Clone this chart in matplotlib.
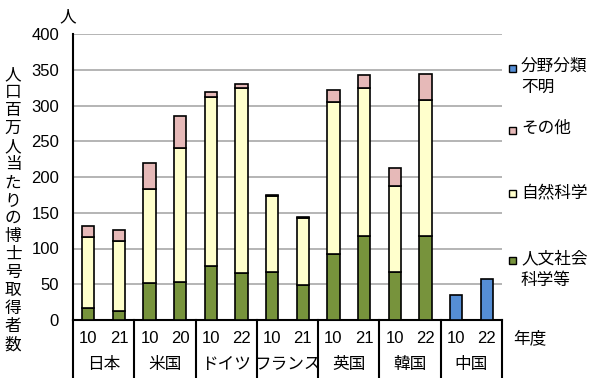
import matplotlib.pyplot as plt
import matplotlib.transforms as mtransforms
from matplotlib.patches import Rectangle

plt.rcParams['font.family'] = ['Liberation Sans', 'Noto Sans CJK JP']

countries = ['日本', '米国', 'ドイツ', 'フランス', '英国', '韓国', '中国']
years = ['10', '21', '10', '20', '10', '22', '10', '21', '10', '21', '10', '22', '10', '22']

# stacked values (people per million population)
humanities = [17, 13, 52, 53, 76, 66, 67, 49, 93, 118, 67, 118, 0, 0]
science    = [99, 98, 131, 188, 236, 258, 107, 94, 212, 206, 121, 190, 0, 0]
other      = [15, 15, 36, 45, 7, 6, 1, 1, 16, 18, 25, 36, 0, 0]
unknown    = [0, 0, 0, 0, 0, 0, 0, 0, 0, 0, 0, 0, 35, 58]

labels = ['人文社会\n科学等', '自然科学', 'その他', '分野分類\n不明']
colors = ['#77933C', '#FFFFCC', '#E6B9B8', '#558ED5']

fig = plt.figure(figsize=(6, 3.78), dpi=100)
ax = fig.add_axes([73/600, 58/378, 429/600, 286/378])

xs = []
for i in range(len(countries)):
    xs += [i + 0.25, i + 0.75]

bottom = [0] * len(xs)
for vals, col, lab in zip([humanities, science, other, unknown], colors, labels):
    idx = [k for k, v in enumerate(vals) if v > 0]
    ax.bar([xs[k] for k in idx], [vals[k] for k in idx], width=0.2,
           bottom=[bottom[k] for k in idx], color=col, edgecolor='black',
           linewidth=1.2, label=lab, zorder=3)
    bottom = [b + v for b, v in zip(bottom, vals)]

ax.set_xlim(0, 7)
ax.set_ylim(0, 400)
ax.set_yticks(range(0, 401, 50))
ax.tick_params(axis='y', length=0, labelsize=12, pad=10)
ax.set_xticks([])
ax.yaxis.grid(True, color='#A8A8A8', linewidth=1.2)
ax.set_axisbelow(True)
for s in ['top', 'right']:
    ax.spines[s].set_visible(False)
ax.spines['left'].set_linewidth(1.5)
ax.spines['bottom'].set_linewidth(1.5)

# category table under the axis
trans = mtransforms.blended_transform_factory(ax.transData, ax.transAxes)
for i in range(len(countries) + 1):
    ax.plot([i, i], [0, -0.21], color='black', linewidth=1.5,
            transform=trans, clip_on=False)
for x, y in zip(xs, years):
    ax.text(x, -0.063, y, transform=trans, ha='center', va='center', fontsize=12)
for i, c in enumerate(countries):
    ax.text(i + 0.5, -0.157, c, transform=trans, ha='center', va='center', fontsize=12)

fig.text(513/600, 1 - 338/378, '年度', ha='left', va='center', fontsize=12)
fig.text(68/600, 1 - 17/378, '人', ha='center', va='center', fontsize=12)
fig.text(13/600, 1 - 210/378, '\n'.join('人口百万人当たりの博士号取得者数'),
         ha='center', va='center', fontsize=12, linespacing=1.25)

# legend, square aligned with the first line of each label
leg_y = [260, 193, 130, 68]
for col, lab, y in zip(colors, labels, leg_y):
    fig.patches.append(Rectangle((509/600, 1 - (y + 4)/378), 7/600, 7/378,
                                 facecolor=col, edgecolor='black', linewidth=1,
                                 transform=fig.transFigure))
    fig.text(521/600, 1 - (y - 9)/378, lab, ha='left', va='top', fontsize=12,
             linespacing=1.45)

plt.savefig('out.png', dpi=100)
